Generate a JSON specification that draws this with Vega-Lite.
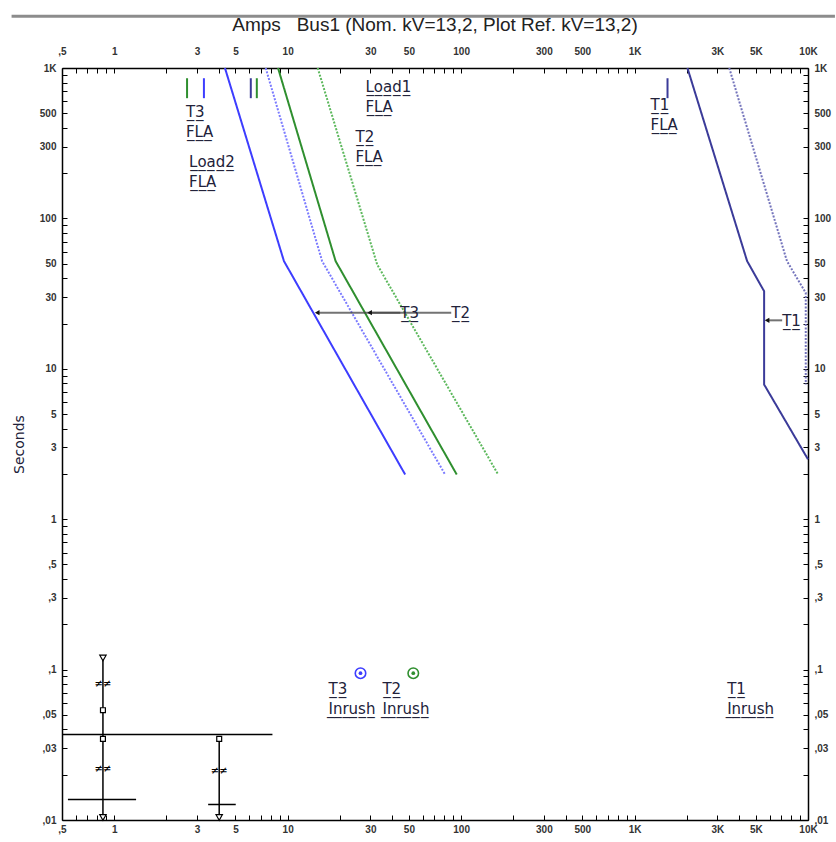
{
  "$schema": "https://vega.github.io/schema/vega-lite/v6.json",
  "autosize": {"type": "none"},
  "padding": {"left": 62, "top": 68, "right": 28, "bottom": 22},
  "width": 746,
  "height": 752,
  "background": "white",
  "config": {"view": {"stroke": null}},
  "title": {"text": "Amps\u00a0\u00a0\u00a0Bus1 (Nom. kV=13,2, Plot Ref. kV=13,2)", "font": "Liberation Sans", "fontSize": 19, "fontWeight": "normal", "color": "#222222", "anchor": "middle", "frame": "group", "offset": -20},
  "resolve": {"axis": {"x": "independent", "y": "independent"}},
  "layer": [
    {
      "data": {"values": [
        {"s": "T3", "i": 0, "a": 4.35, "t": 1000}, {"s": "T3", "i": 1, "a": 9.52, "t": 52}, {"s": "T3", "i": 2, "a": 47.6, "t": 1.98},
        {"s": "T3 dmg", "i": 0, "a": 7.47, "t": 1000}, {"s": "T3 dmg", "i": 1, "a": 15.8, "t": 52}, {"s": "T3 dmg", "i": 2, "a": 80.9, "t": 1.98},
        {"s": "T2", "i": 0, "a": 8.8, "t": 1000}, {"s": "T2", "i": 1, "a": 18.9, "t": 52}, {"s": "T2", "i": 2, "a": 94.4, "t": 1.98},
        {"s": "T2 dmg", "i": 0, "a": 14.9, "t": 1000}, {"s": "T2 dmg", "i": 1, "a": 32.8, "t": 49.4}, {"s": "T2 dmg", "i": 2, "a": 163.6, "t": 1.98},
        {"s": "T1", "i": 0, "a": 2018, "t": 1000}, {"s": "T1", "i": 1, "a": 4457, "t": 52}, {"s": "T1", "i": 2, "a": 5585, "t": 32.8}, {"s": "T1", "i": 3, "a": 5585, "t": 7.86}, {"s": "T1", "i": 4, "a": 10000, "t": 2.5},
        {"s": "T1 dmg", "i": 0, "a": 3516, "t": 1000}, {"s": "T1 dmg", "i": 1, "a": 7560, "t": 52}, {"s": "T1 dmg", "i": 2, "a": 9705, "t": 32}, {"s": "T1 dmg", "i": 3, "a": 9705, "t": 7.86}
      ]},
      "mark": {"type": "line", "strokeWidth": 2},
      "encoding": {
        "x": {"field": "a", "type": "quantitative", "scale": {"type": "log", "domain": [0.5, 10000], "nice": false},
          "axis": {"orient": "bottom", "title": null, "grid": false, "values": [0.5,0.6,0.7,0.8,0.9,1,2,3,4,5,6,7,8,9,10,20,30,40,50,60,70,80,90,100,200,300,400,500,600,700,800,900,1000,2000,3000,4000,5000,6000,7000,8000,9000,10000],
            "labelExpr": "datum.value==0.5?',5':datum.value==1000?'1K':datum.value==3000?'3K':datum.value==5000?'5K':datum.value==10000?'10K':indexof([1,3,5,10,30,50,100,300,500],datum.value)>=0?''+datum.value:''",
            "tickSize": -5, "tickColor": "#000", "tickWidth": 1, "domainColor": "#000", "domainWidth": 1.5, "labelPadding": 9, "labelFont": "Liberation Sans", "labelFontSize": 10, "labelFontWeight": "bold", "labelColor": "#333", "labelFlush": false, "labelOverlap": false}},
        "y": {"field": "t", "type": "quantitative", "scale": {"type": "log", "domain": [0.01, 1000], "nice": false},
          "axis": {"orient": "left", "title": "Seconds", "titleFont": "DejaVu Sans", "titleFontSize": 14, "titleFontWeight": "normal", "titleColor": "#22223a", "titlePadding": 13, "grid": false,
            "values": [0.01,0.02,0.03,0.04,0.05,0.06,0.07,0.08,0.09,0.1,0.2,0.3,0.4,0.5,0.6,0.7,0.8,0.9,1,2,3,4,5,6,7,8,9,10,20,30,40,50,60,70,80,90,100,200,300,400,500,600,700,800,900,1000],
            "labelExpr": "datum.value==1000?'1K':indexof([500,300,100,50,30,10,5,3,1],datum.value)>=0?''+datum.value:datum.value==0.5?',5':datum.value==0.3?',3':datum.value==0.1?',1':datum.value==0.05?',05':datum.value==0.03?',03':datum.value==0.01?',01':''",
            "tickSize": -5, "tickColor": "#000", "tickWidth": 1, "domainColor": "#000", "domainWidth": 1.5, "labelPadding": 11, "labelFont": "Liberation Sans", "labelFontSize": 10, "labelFontWeight": "bold", "labelColor": "#333", "labelFlush": false, "labelOverlap": false}},
        "color": {"field": "s", "type": "nominal", "scale": {"domain": ["T3", "T3 dmg", "T2", "T2 dmg", "T1", "T1 dmg"], "range": ["#3d3dff", "#7b7bff", "#2f8f2f", "#5cb85c", "#3b3b99", "#7373bb"]}, "legend": null},
        "strokeDash": {"field": "s", "type": "nominal", "scale": {"domain": ["T3", "T3 dmg", "T2", "T2 dmg", "T1", "T1 dmg"], "range": [[1, 0], [2, 1.5], [1, 0], [2, 1.5], [1, 0], [2, 1.5]]}, "legend": null},
        "order": {"field": "i", "type": "quantitative"}
      }
    },
    {
      "data": {"values": [
        {"s": "T2", "a": 2.63, "lo": 630, "hi": 855},
        {"s": "T3", "a": 3.29, "lo": 630, "hi": 855},
        {"s": "T1", "a": 6.13, "lo": 630, "hi": 855},
        {"s": "T2", "a": 6.64, "lo": 630, "hi": 855},
        {"s": "T1", "a": 1549, "lo": 630, "hi": 855}
      ]},
      "mark": {"type": "rule", "strokeWidth": 2},
      "encoding": {
        "x": {"field": "a", "type": "quantitative", "scale": {"type": "log", "domain": [0.5, 10000], "nice": false},
          "axis": {"orient": "top", "title": null, "grid": false, "values": [0.5,0.6,0.7,0.8,0.9,1,2,3,4,5,6,7,8,9,10,20,30,40,50,60,70,80,90,100,200,300,400,500,600,700,800,900,1000,2000,3000,4000,5000,6000,7000,8000,9000,10000],
            "labelExpr": "datum.value==0.5?',5':datum.value==1000?'1K':datum.value==3000?'3K':datum.value==5000?'5K':datum.value==10000?'10K':indexof([1,3,5,10,30,50,100,300,500],datum.value)>=0?''+datum.value:''",
            "tickSize": -5, "tickColor": "#000", "tickWidth": 1, "domainColor": "#000", "domainWidth": 1.5, "labelPadding": 17, "labelFont": "Liberation Sans", "labelFontSize": 10, "labelFontWeight": "bold", "labelColor": "#333", "labelFlush": false, "labelOverlap": false}},
        "y": {"field": "lo", "type": "quantitative", "scale": {"type": "log", "domain": [0.01, 1000], "nice": false},
          "axis": {"orient": "right", "title": null, "grid": false,
            "values": [0.01,0.02,0.03,0.04,0.05,0.06,0.07,0.08,0.09,0.1,0.2,0.3,0.4,0.5,0.6,0.7,0.8,0.9,1,2,3,4,5,6,7,8,9,10,20,30,40,50,60,70,80,90,100,200,300,400,500,600,700,800,900,1000],
            "labelExpr": "datum.value==1000?'1K':indexof([500,300,100,50,30,10,5,3,1],datum.value)>=0?''+datum.value:datum.value==0.5?',5':datum.value==0.3?',3':datum.value==0.1?',1':datum.value==0.05?',05':datum.value==0.03?',03':datum.value==0.01?',01':''",
            "tickSize": -5, "tickColor": "#000", "tickWidth": 1, "domainColor": "#000", "domainWidth": 1.5, "labelPadding": 11, "labelFont": "Liberation Sans", "labelFontSize": 10, "labelFontWeight": "bold", "labelColor": "#333", "labelFlush": false, "labelOverlap": false}},
        "y2": {"field": "hi"},
        "color": {"field": "s", "type": "nominal", "scale": {"domain": ["T3", "T3 dmg", "T2", "T2 dmg", "T1", "T1 dmg"], "range": ["#3d3dff", "#7b7bff", "#2f8f2f", "#5cb85c", "#3b3b99", "#7373bb"]}, "legend": null}
      }
    },
    {
      "data": {"values": [
        {"a1": 14.8, "a2": 44.6, "t": 23.6},
        {"a1": 29.7, "a2": 87.7, "t": 23.6},
        {"a1": 5808, "a2": 7096, "t": 21}
      ]},
      "mark": {"type": "rule", "strokeWidth": 2, "color": "#444", "opacity": 0.75},
      "encoding": {
        "x": {"field": "a1", "type": "quantitative", "scale": {"type": "log", "domain": [0.5, 10000], "nice": false}, "axis": null},
        "x2": {"field": "a2"},
        "y": {"field": "t", "type": "quantitative", "scale": {"type": "log", "domain": [0.01, 1000], "nice": false}, "axis": null}
      }
    },
    {
      "data": {"values": [
        {"a": 14.8, "t": 23.6}, {"a": 29.7, "t": 23.6}, {"a": 5808, "t": 21}
      ]},
      "mark": {"type": "point", "shape": "triangle-left", "filled": true, "color": "#111", "size": 28, "opacity": 1},
      "encoding": {
        "x": {"field": "a", "type": "quantitative", "scale": {"type": "log", "domain": [0.5, 10000], "nice": false}, "axis": null},
        "y": {"field": "t", "type": "quantitative", "scale": {"type": "log", "domain": [0.01, 1000], "nice": false}, "axis": null}
      }
    },
    {
      "data": {"values": [
        {"x1": 0.861, "x2": 0.861, "y1": 0.0101, "y2": 0.121},
        {"x1": 4.03, "x2": 4.03, "y1": 0.0101, "y2": 0.0346},
        {"x1": 0.5, "x2": 8.17, "y1": 0.037, "y2": 0.037},
        {"x1": 0.541, "x2": 1.337, "y1": 0.01368, "y2": 0.01368},
        {"x1": 3.48, "x2": 5.02, "y1": 0.01268, "y2": 0.01268}
      ]},
      "mark": {"type": "rule", "strokeWidth": 1.5, "color": "#000"},
      "encoding": {
        "x": {"field": "x1", "type": "quantitative", "scale": {"type": "log", "domain": [0.5, 10000], "nice": false}, "axis": null},
        "x2": {"field": "x2"},
        "y": {"field": "y1", "type": "quantitative", "scale": {"type": "log", "domain": [0.01, 1000], "nice": false}, "axis": null},
        "y2": {"field": "y2"}
      }
    },
    {
      "data": {"values": [
        {"a": 0.861, "t": 0.0537}, {"a": 0.861, "t": 0.0346}, {"a": 4.03, "t": 0.0346}
      ]},
      "mark": {"type": "point", "shape": "square", "filled": true, "fill": "white", "stroke": "#000", "strokeWidth": 1.2, "size": 24, "opacity": 1},
      "encoding": {
        "x": {"field": "a", "type": "quantitative", "scale": {"type": "log", "domain": [0.5, 10000], "nice": false}, "axis": null},
        "y": {"field": "t", "type": "quantitative", "scale": {"type": "log", "domain": [0.01, 1000], "nice": false}, "axis": null}
      }
    },
    {
      "data": {"values": [
        {"a": 0.861, "t": 0.1195}, {"a": 0.861, "t": 0.0104}, {"a": 4.03, "t": 0.0104}
      ]},
      "mark": {"type": "point", "shape": "triangle-down", "filled": true, "fill": "white", "stroke": "#000", "strokeWidth": 1.2, "size": 40, "opacity": 1},
      "encoding": {
        "x": {"field": "a", "type": "quantitative", "scale": {"type": "log", "domain": [0.5, 10000], "nice": false}, "axis": null},
        "y": {"field": "t", "type": "quantitative", "scale": {"type": "log", "domain": [0.01, 1000], "nice": false}, "axis": null}
      }
    },
    {
      "data": {"values": [
        {"a": 0.861, "t": 0.0803, "txt": "≠≠"}, {"a": 0.861, "t": 0.0217, "txt": "≠≠"}, {"a": 4.03, "t": 0.0211, "txt": "≠≠"}
      ]},
      "mark": {"type": "text", "font": "DejaVu Sans", "fontSize": 10, "fontWeight": "bold", "color": "#000", "align": "center", "baseline": "middle"},
      "encoding": {
        "x": {"field": "a", "type": "quantitative", "scale": {"type": "log", "domain": [0.5, 10000], "nice": false}, "axis": null},
        "y": {"field": "t", "type": "quantitative", "scale": {"type": "log", "domain": [0.01, 1000], "nice": false}, "axis": null},
        "text": {"field": "txt"}
      }
    },
    {
      "data": {"values": [
        {"s": "T3", "a": 26.3, "t": 0.0946}, {"s": "T2", "a": 53.0, "t": 0.0946}
      ]},
      "mark": {"type": "point", "shape": "circle", "filled": true, "fill": "white", "strokeWidth": 1.6, "size": 110, "opacity": 1},
      "encoding": {
        "x": {"field": "a", "type": "quantitative", "scale": {"type": "log", "domain": [0.5, 10000], "nice": false}, "axis": null},
        "y": {"field": "t", "type": "quantitative", "scale": {"type": "log", "domain": [0.01, 1000], "nice": false}, "axis": null},
        "stroke": {"field": "s", "type": "nominal", "scale": {"domain": ["T3", "T3 dmg", "T2", "T2 dmg", "T1", "T1 dmg"], "range": ["#3d3dff", "#7b7bff", "#2f8f2f", "#5cb85c", "#3b3b99", "#7373bb"]}, "legend": null}
      }
    },
    {
      "data": {"values": [
        {"s": "T3", "a": 26.3, "t": 0.0946}, {"s": "T2", "a": 53.0, "t": 0.0946}
      ]},
      "mark": {"type": "point", "shape": "circle", "filled": true, "size": 14, "opacity": 1},
      "encoding": {
        "x": {"field": "a", "type": "quantitative", "scale": {"type": "log", "domain": [0.5, 10000], "nice": false}, "axis": null},
        "y": {"field": "t", "type": "quantitative", "scale": {"type": "log", "domain": [0.01, 1000], "nice": false}, "axis": null},
        "color": {"field": "s", "type": "nominal", "scale": {"domain": ["T3", "T3 dmg", "T2", "T2 dmg", "T1", "T1 dmg"], "range": ["#3d3dff", "#7b7bff", "#2f8f2f", "#5cb85c", "#3b3b99", "#7373bb"]}, "legend": null}
      }
    },
    {
      "data": {"values": [
        {"txt": "T̲3̲\nF̲L̲A̲", "a": 2.59, "t": 566},
        {"txt": "L̲o̲a̲d̲2̲\nF̲L̲A̲", "a": 2.7, "t": 263},
        {"txt": "L̲o̲a̲d̲1̲\nF̲L̲A̲", "a": 28.1, "t": 829},
        {"txt": "T̲2̲\nF̲L̲A̲", "a": 24.6, "t": 386},
        {"txt": "T̲1̲\nF̲L̲A̲", "a": 1236, "t": 630},
        {"txt": "T̲3̲\nI̲n̲r̲u̲s̲h̲", "a": 17.2, "t": 0.0824},
        {"txt": "T̲2̲\nI̲n̲r̲u̲s̲h̲", "a": 35.2, "t": 0.0824},
        {"txt": "T̲1̲\nI̲n̲r̲u̲s̲h̲", "a": 3420, "t": 0.0824},
        {"txt": "T̲3̲", "a": 44.6, "t": 26.1},
        {"txt": "T̲2̲", "a": 87.7, "t": 26.1},
        {"txt": "T̲1̲", "a": 7096, "t": 23.1}
      ]},
      "mark": {"type": "text", "font": "DejaVu Sans", "fontSize": 15, "fontWeight": "normal", "color": "#22223a", "align": "left", "baseline": "top", "lineBreak": "\n", "lineHeight": 20},
      "encoding": {
        "x": {"field": "a", "type": "quantitative", "scale": {"type": "log", "domain": [0.5, 10000], "nice": false}, "axis": null},
        "y": {"field": "t", "type": "quantitative", "scale": {"type": "log", "domain": [0.01, 1000], "nice": false}, "axis": null},
        "text": {"field": "txt"}
      }
    },
    {
      "data": {"values": [
        {"x1": 0.256, "x2": 14300, "y": 2209}
      ]},
      "mark": {"type": "rule", "strokeWidth": 3, "color": "#8c8c8c", "clip": false},
      "encoding": {
        "x": {"field": "x1", "type": "quantitative", "scale": {"type": "log", "domain": [0.5, 10000], "nice": false}, "axis": null},
        "x2": {"field": "x2"},
        "y": {"field": "y", "type": "quantitative", "scale": {"type": "log", "domain": [0.01, 1000], "nice": false}, "axis": null}
      }
    }
  ]
}
